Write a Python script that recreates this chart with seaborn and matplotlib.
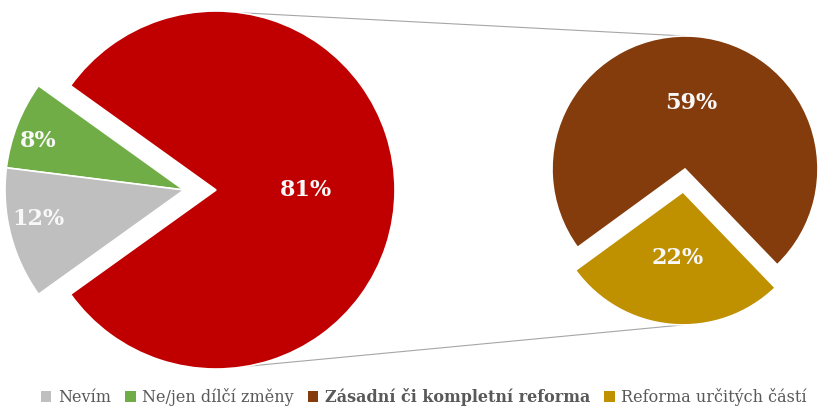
import numpy as np
import seaborn as sns
import matplotlib.pyplot as plt
from matplotlib.patches import Patch

# main pie: reform (total), no/only partial changes, don't know
main_labels = ['Zásadní či kompletní reforma (celkem)', 'Ne/jen dílčí změny', 'Nevím']
main_values = [81, 8, 12]
main_colors = ['#C00000', '#70AD47', '#BFBFBF']

# secondary pie: breakdown of the 81 %
sub_labels = ['Zásadní či kompletní reforma', 'Reforma určitých částí']
sub_values = [59, 22]
sub_colors = ['#843C0C', '#BF9000']

legend_labels = ['Nevím', 'Ne/jen dílčí změny', 'Zásadní či kompletní reforma', 'Reforma určitých částí']
legend_colors = ['#BFBFBF', '#70AD47', '#843C0C', '#BF9000']

sns.set_theme(style='white')
plt.rcParams['font.family'] = ['DejaVu Serif', 'DejaVu Sans']

W, H = 820, 408
fig = plt.figure(figsize=(W / 100, H / 100), dpi=100)
ax = fig.add_axes([0, 0, 1, 1])

# left pie
c1 = np.array([216.0, 218.0])
r1 = 179
shift = 32  # the small slices are pulled out to the left
red_share = main_values[0] / sum(main_values) * 360
wedges1, _ = ax.pie(main_values, colors=main_colors, center=tuple(c1), radius=r1,
                    startangle=-red_share / 2, counterclock=True,
                    wedgeprops=dict(edgecolor='white', linewidth=1.2))
for w in wedges1[1:]:
    w.set_center((c1[0] - shift, c1[1]))

# label distance and small angle nudge per slice
label_dist = [0.5, 0.86, 0.83]
label_nudge = [0, 3, -3]
for w, v, d, n in zip(wedges1, main_values, label_dist, label_nudge):
    a = np.deg2rad((w.theta1 + w.theta2) / 2 + n)
    cx, cy = w.center
    ax.text(cx + d * r1 * np.cos(a), cy + d * r1 * np.sin(a), f'{v}%',
            ha='center', va='center', color='#F8F8F8', fontsize=16, fontweight='bold')

# right pie
c2 = np.array([685.0, 239.0])
r2 = 133
gold_share = sub_values[1] / sum(sub_values) * 360
gold_mid = 265
wedges2, _ = ax.pie(sub_values, colors=sub_colors, center=tuple(c2), radius=r2,
                    startangle=gold_mid + gold_share / 2 - 360, counterclock=True,
                    explode=[0, 23],
                    wedgeprops=dict(edgecolor='white', linewidth=1.2))
for w, v in zip(wedges2, sub_values):
    a = np.deg2rad((w.theta1 + w.theta2) / 2)
    cx, cy = w.center
    ax.text(cx + 0.5 * r2 * np.cos(a), cy + 0.5 * r2 * np.sin(a), f'{v}%',
            ha='center', va='center', color='#F8F8F8', fontsize=16, fontweight='bold')

# connector lines between the pies
gold_c = wedges2[1].center
p_top1 = c1 + r1 * np.array([np.cos(np.deg2rad(82)), np.sin(np.deg2rad(82))])
p_bot1 = c1 + r1 * np.array([np.cos(np.deg2rad(-80)), np.sin(np.deg2rad(-80))])
p_top2 = c2 + np.array([0, r2])
p_bot2 = np.array(gold_c) + np.array([0, -r2])
for a_, b_ in [(p_top1, p_top2), (p_bot1, p_bot2)]:
    ax.plot([a_[0], b_[0]], [a_[1], b_[1]], color='#A6A6A6', lw=0.8, zorder=0)

# pie() resets the limits, so set the pixel frame afterwards
ax.set_xlim(0, W)
ax.set_ylim(0, H)
ax.set_aspect('equal')
ax.axis('off')

handles = [Patch(facecolor=c, edgecolor='none') for c in legend_colors]
leg = fig.legend(handles, legend_labels, loc='center', bbox_to_anchor=(0.517, 0.027),
                 ncol=4, frameon=False, fontsize=11.5, handlelength=0.65, handleheight=0.65,
                 handletextpad=0.4, columnspacing=0.9, borderaxespad=0, borderpad=0)
for t in leg.get_texts():
    t.set_color('#595959')
leg.get_texts()[2].set_fontweight('bold')

fig.savefig('out.png', dpi=100)
